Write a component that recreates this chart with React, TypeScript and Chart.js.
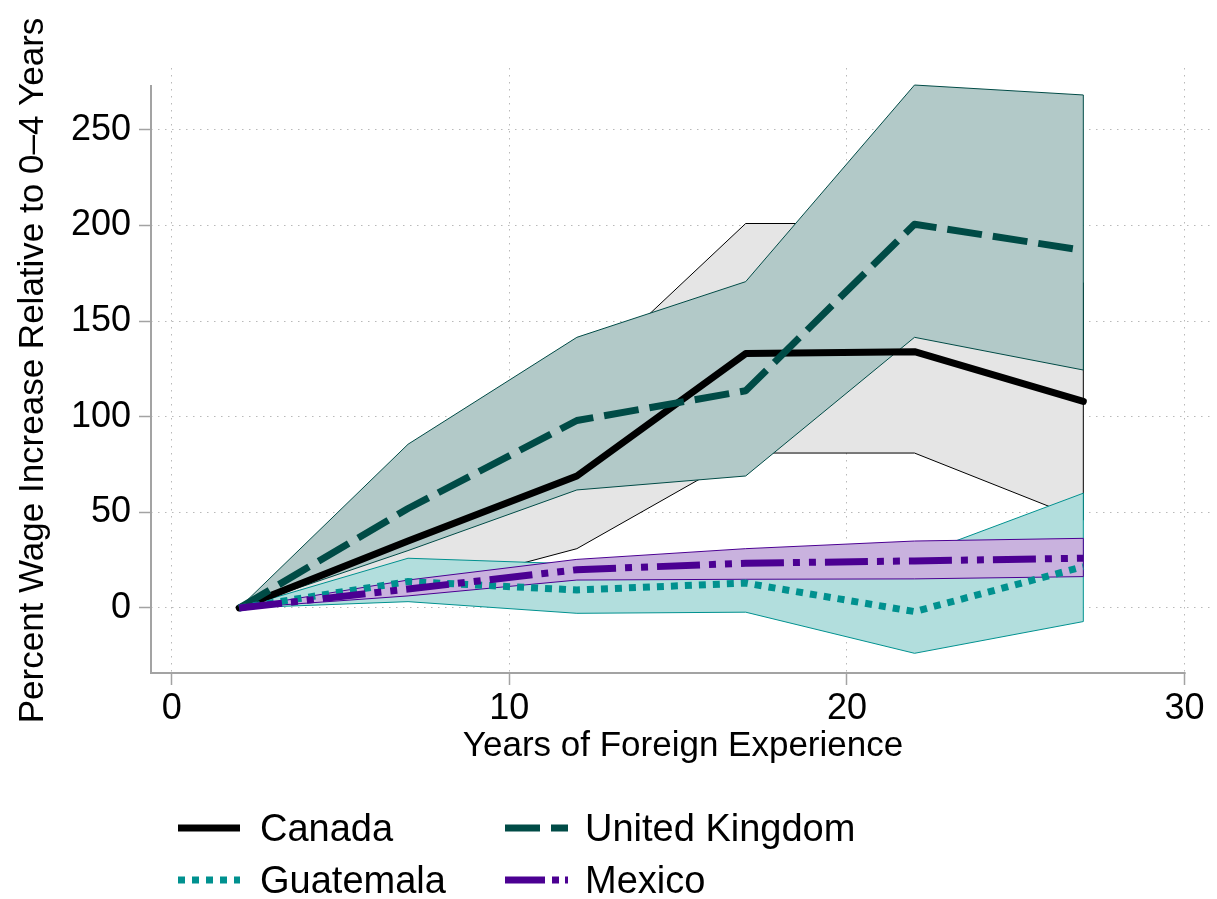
import React, { useEffect, useRef } from "react";
import { Chart, registerables } from "chart.js";

Chart.register(...registerables);

// ---- data ----
const xYears = [2, 7, 12, 17, 22, 27];

const canada = [0, 35, 69, 133, 134, 108];
const canadaLo = [0, 7.5, 31, 81, 81, 46];
const canadaHi = [0, 60, 118, 201, 201, 170];

const uk = [0, 52, 98, 113.6, 200.6, 187];
const ukLo = [0, 30, 61.7, 69, 141.5, 124.4];
const ukHi = [0, 85.6, 141.5, 170.6, 273.4, 268.2];

const guatemala = [0, 13.8, 9.4, 13, -1.9, 21.6];
const guatemalaLo = [0, 3.3, -2.8, -2.2, -23.7, -7.1];
const guatemalaHi = [0, 26, 23, 25, 27, 60];

const mexico = [0, 9.9, 20, 23.4, 24.6, 26];
const mexicoLo = [0, 6.3, 14.6, 15, 15.2, 16.4];
const mexicoHi = [0, 14.6, 25.4, 31, 35, 36.4];

const xTicks = [0, 10, 20, 30];
const yTicks = [0, 50, 100, 150, 200, 250];

const seriesNames = ["Canada", "United Kingdom", "Guatemala", "Mexico"];

// ---- styles ----
const FONT = "'Liberation Sans', Arial, Helvetica, sans-serif";
const AXIS_COLOR = "#a3a3a3";
const GRID_COLOR = "#b9b9b9";

const C_CANADA = "#000000";
const C_UK = "#004b46";
const C_GUAT = "#00918f";
const C_MEX = "#4b0092";
const F_CANADA = "#e5e5e5";
const F_UK = "#b2c9c8";
const F_GUAT = "#b2dedd";
const F_MEX = "#c9b2de";

const DASH_UK = [35, 11];
const DASH_GUAT = [7, 7];
const DASH_MEX = [43, 9, 7, 9, 7, 9];

const pts = (ys: number[]) => xYears.map((x, i) => ({ x, y: ys[i] }));

function band(lo: number[], hi: number[], fill: string, border: string, order: number) {
  const last = xYears.length - 1;
  return [
    {
      data: pts(lo),
      borderColor: border,
      borderWidth: 1,
      pointRadius: 0,
      fill: false,
      order,
    },
    {
      data: pts(hi),
      borderColor: border,
      borderWidth: 1,
      backgroundColor: fill,
      pointRadius: 0,
      fill: "-1",
      order,
    },
    {
      data: [
        { x: xYears[last], y: lo[last] },
        { x: xYears[last], y: hi[last] },
      ],
      borderColor: border,
      borderWidth: 1,
      pointRadius: 0,
      fill: false,
      order: order - 1,
    },
  ];
}

const axisLinesPlugin = {
  id: "axisLines",
  afterDraw(chart: any) {
    const { ctx } = chart;
    const xs = chart.scales.x;
    const ys = chart.scales.y;
    const yMax = Math.max(...canadaHi, ...ukHi, ...guatemalaHi, ...mexicoHi);
    const yTop = ys.getPixelForValue(yMax);
    const xRight = xs.getPixelForValue(xTicks[xTicks.length - 1]);
    ctx.save();
    ctx.strokeStyle = AXIS_COLOR;
    ctx.lineWidth = 2;
    ctx.beginPath();
    ctx.moveTo(xs.left, ys.bottom);
    ctx.lineTo(xs.left, yTop);
    ctx.moveTo(xs.left - 1, ys.bottom);
    ctx.lineTo(xRight + 1, ys.bottom);
    ctx.stroke();
    ctx.restore();
  },
};

function LegendSymbol({ x1, x2, y, color, dash, cap }: any) {
  return (
    <line
      x1={x1}
      x2={x2}
      y1={y}
      y2={y}
      stroke={color}
      strokeWidth={7}
      strokeDasharray={dash ? dash.join(" ") : undefined}
      strokeLinecap={cap || "butt"}
    />
  );
}

export default function App() {
  const canvasRef = useRef<HTMLCanvasElement | null>(null);

  useEffect(() => {
    const canvas = canvasRef.current;
    if (!canvas) return;
    const datasets: any[] = [
      ...band(canadaLo, canadaHi, F_CANADA, "#000000", 100),
      ...band(ukLo, ukHi, F_UK, C_UK, 90),
      ...band(guatemalaLo, guatemalaHi, F_GUAT, C_GUAT, 80),
      ...band(mexicoLo, mexicoHi, F_MEX, C_MEX, 70),
      {
        label: seriesNames[0],
        data: pts(canada),
        borderColor: C_CANADA,
        borderWidth: 7,
        borderCapStyle: "round",
        borderJoinStyle: "round",
        pointRadius: 0,
        fill: false,
        order: 40,
      },
      {
        label: seriesNames[1],
        data: pts(uk),
        borderColor: C_UK,
        borderWidth: 7,
        borderDash: DASH_UK,
        borderJoinStyle: "round",
        pointRadius: 0,
        fill: false,
        order: 30,
      },
      {
        label: seriesNames[2],
        data: pts(guatemala),
        borderColor: C_GUAT,
        borderWidth: 7,
        borderDash: DASH_GUAT,
        pointRadius: 0,
        fill: false,
        order: 20,
      },
      {
        label: seriesNames[3],
        data: pts(mexico),
        borderColor: C_MEX,
        borderWidth: 7,
        borderDash: DASH_MEX,
        pointRadius: 0,
        fill: false,
        order: 10,
      },
    ];

    const chart = new Chart(canvas, {
      type: "line",
      data: { datasets },
      options: {
        animation: false,
        responsive: false,
        events: [],
        layout: { padding: { top: 68, right: 2, left: 0, bottom: 0 } },
        plugins: {
          legend: { display: false },
          tooltip: { enabled: false },
        },
        elements: { line: { tension: 0 } },
        scales: {
          x: {
            type: "linear",
            min: -0.613,
            max: 30.9,
            afterBuildTicks: (s: any) => {
              s.ticks = xTicks.map((v) => ({ value: v }));
            },
            afterFit: (s: any) => {
              s.height = 226;
            },
            ticks: {
              font: { family: FONT, size: 36 },
              color: "#000",
              padding: 2,
              maxRotation: 0,
              autoSkip: false,
            },
            grid: {
              color: GRID_COLOR,
              lineWidth: 1,
              borderDash: [1.5, 5.5],
              tickLength: 12,
              tickColor: AXIS_COLOR,
              tickWidth: 1.5,
              tickBorderDash: [],
            } as any,
            border: { display: false, dash: [1.5, 5.5] },
            title: {
              display: true,
              text: "Years of Foreign Experience",
              font: { family: FONT, size: 35 },
              color: "#000",
              padding: { top: 0, bottom: 132 },
            },
          },
          y: {
            type: "linear",
            min: -34.0,
            max: 282.3,
            afterBuildTicks: (s: any) => {
              s.ticks = yTicks.map((v) => ({ value: v }));
            },
            afterFit: (s: any) => {
              s.width = 151;
            },
            ticks: {
              font: { family: FONT, size: 36 },
              color: "#000",
              padding: 8,
              autoSkip: false,
            },
            grid: {
              color: GRID_COLOR,
              lineWidth: 1,
              borderDash: [1.5, 5.5],
              tickLength: 12,
              tickColor: AXIS_COLOR,
              tickWidth: 1.5,
              tickBorderDash: [],
            } as any,
            border: { display: false, dash: [1.5, 5.5] },
            title: {
              display: true,
              text: "Percent Wage Increase Relative to 0–4 Years",
              font: { family: FONT, size: 35 },
              color: "#000",
              padding: { top: 12, bottom: 0 },
            },
          },
        },
      } as any,
      plugins: [axisLinesPlugin],
    });
    return () => chart.destroy();
  }, []);

  const textStyle = (left: number, top: number): React.CSSProperties => ({
    position: "absolute",
    left,
    top,
    transform: "translateY(-50%)",
    fontFamily: FONT,
    fontSize: 38,
    lineHeight: 1,
    color: "#000",
    whiteSpace: "nowrap",
  });

  const row1 = 828;
  const row2 = 880;

  return (
    <div
      style={{
        position: "fixed",
        left: 0,
        top: 0,
        width: 1217,
        height: 899,
        background: "#fff",
        overflow: "hidden",
      }}
    >
      <canvas ref={canvasRef} width={1217} height={899} style={{ width: 1217, height: 899, display: "block" }} />
      <svg
        width={1217}
        height={899}
        style={{ position: "absolute", left: 0, top: 0, pointerEvents: "none" }}
      >
        <LegendSymbol x1={178} x2={240} y={row1} color={C_CANADA} />
        <LegendSymbol x1={505} x2={568} y={row1} color={C_UK} dash={DASH_UK} />
        <LegendSymbol x1={178} x2={240} y={row2} color={C_GUAT} dash={DASH_GUAT} />
        <LegendSymbol x1={505} x2={568} y={row2} color={C_MEX} dash={[40, 7, 7, 6, 7, 9]} />
      </svg>
      <div style={textStyle(260, row1)}>{seriesNames[0]}</div>
      <div style={textStyle(585, row1)}>{seriesNames[1]}</div>
      <div style={textStyle(260, row2)}>{seriesNames[2]}</div>
      <div style={textStyle(585, row2)}>{seriesNames[3]}</div>
    </div>
  );
}
